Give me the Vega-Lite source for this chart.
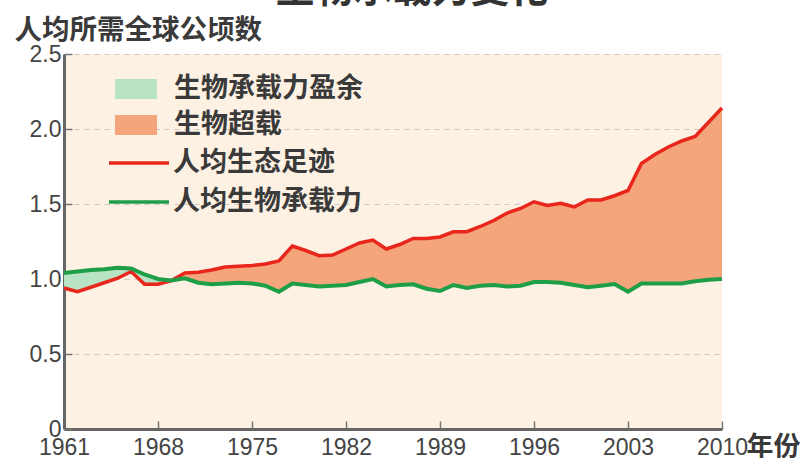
{
  "$schema": "https://vega.github.io/schema/vega-lite/v6.json",
  "autosize": "none",
  "width": 658,
  "height": 375,
  "padding": {"left": 64, "top": 54, "right": 86, "bottom": 29},
  "background": "#ffffff",
  "view": {"fill": "#fdf1e3", "stroke": null},
  "title": {
    "text": "生物承载力变化",
    "fontSize": 39,
    "font": "Noto Sans CJK SC",
    "fontWeight": "bold",
    "color": "#333333",
    "anchor": "middle",
    "baseline": "bottom",
    "dx": 19,
    "dy": 40,
    "offset": 7
  },
  "data": {
    "values": [
      {"year": 1961, "footprint": 0.94, "biocapacity": 1.04},
      {"year": 1962, "footprint": 0.915, "biocapacity": 1.05},
      {"year": 1963, "footprint": 0.945, "biocapacity": 1.06},
      {"year": 1964, "footprint": 0.975, "biocapacity": 1.065},
      {"year": 1965, "footprint": 1.005, "biocapacity": 1.075},
      {"year": 1966, "footprint": 1.05, "biocapacity": 1.07},
      {"year": 1967, "footprint": 0.965, "biocapacity": 1.03},
      {"year": 1968, "footprint": 0.965, "biocapacity": 1.0},
      {"year": 1969, "footprint": 0.99, "biocapacity": 0.99},
      {"year": 1970, "footprint": 1.04, "biocapacity": 1.005},
      {"year": 1971, "footprint": 1.045, "biocapacity": 0.975},
      {"year": 1972, "footprint": 1.06, "biocapacity": 0.965},
      {"year": 1973, "footprint": 1.08, "biocapacity": 0.97},
      {"year": 1974, "footprint": 1.085, "biocapacity": 0.975},
      {"year": 1975, "footprint": 1.09, "biocapacity": 0.97},
      {"year": 1976, "footprint": 1.1, "biocapacity": 0.955},
      {"year": 1977, "footprint": 1.12, "biocapacity": 0.915},
      {"year": 1978, "footprint": 1.22, "biocapacity": 0.97},
      {"year": 1979, "footprint": 1.19, "biocapacity": 0.96},
      {"year": 1980, "footprint": 1.155, "biocapacity": 0.95},
      {"year": 1981, "footprint": 1.16, "biocapacity": 0.955},
      {"year": 1982, "footprint": 1.2, "biocapacity": 0.96},
      {"year": 1983, "footprint": 1.24, "biocapacity": 0.98},
      {"year": 1984, "footprint": 1.26, "biocapacity": 1.0},
      {"year": 1985, "footprint": 1.2, "biocapacity": 0.95},
      {"year": 1986, "footprint": 1.23, "biocapacity": 0.96},
      {"year": 1987, "footprint": 1.27, "biocapacity": 0.965},
      {"year": 1988, "footprint": 1.27, "biocapacity": 0.935},
      {"year": 1989, "footprint": 1.28, "biocapacity": 0.92},
      {"year": 1990, "footprint": 1.315, "biocapacity": 0.96},
      {"year": 1991, "footprint": 1.315, "biocapacity": 0.94},
      {"year": 1992, "footprint": 1.35, "biocapacity": 0.955},
      {"year": 1993, "footprint": 1.39, "biocapacity": 0.96},
      {"year": 1994, "footprint": 1.44, "biocapacity": 0.95},
      {"year": 1995, "footprint": 1.47, "biocapacity": 0.955},
      {"year": 1996, "footprint": 1.515, "biocapacity": 0.98},
      {"year": 1997, "footprint": 1.49, "biocapacity": 0.98},
      {"year": 1998, "footprint": 1.505, "biocapacity": 0.975},
      {"year": 1999, "footprint": 1.48, "biocapacity": 0.96},
      {"year": 2000, "footprint": 1.527, "biocapacity": 0.945},
      {"year": 2001, "footprint": 1.527, "biocapacity": 0.955},
      {"year": 2002, "footprint": 1.555, "biocapacity": 0.967},
      {"year": 2003, "footprint": 1.59, "biocapacity": 0.915},
      {"year": 2004, "footprint": 1.77, "biocapacity": 0.97},
      {"year": 2005, "footprint": 1.83, "biocapacity": 0.97},
      {"year": 2006, "footprint": 1.88, "biocapacity": 0.97},
      {"year": 2007, "footprint": 1.92, "biocapacity": 0.97},
      {"year": 2008, "footprint": 1.95, "biocapacity": 0.985},
      {"year": 2009, "footprint": 2.045, "biocapacity": 0.995},
      {"year": 2010, "footprint": 2.14, "biocapacity": 1.0}
    ]
  },
  "encoding": {
    "x": {
      "field": "year",
      "type": "quantitative",
      "scale": {"domain": [1961, 2010], "nice": false, "zero": false},
      "axis": {
        "values": [1961, 1968, 1975, 1982, 1989, 1996, 2003, 2010],
        "format": "d",
        "grid": false,
        "labelOverlap": false,
        "labelFlush": false,
        "labelFont": "Liberation Sans",
        "labelFontSize": 23,
        "labelColor": "#444444",
        "labelPadding": 15,
        "tickSize": -8,
        "tickWidth": 1.5,
        "tickColor": "#777777",
        "domainColor": "#666666",
        "domainWidth": 3,
        "title": "年份",
        "titleFont": "Noto Sans CJK SC",
        "titleFontSize": 27,
        "titleFontWeight": "bold",
        "titleColor": "#3a3a3a",
        "titleAlign": "left",
        "titleBaseline": "middle",
        "titleX": 682,
        "titleY": 18
      }
    }
  },
  "layer": [
    {
      "transform": [{"filter": "datum.year >= 1969"}],
      "mark": {"type": "area", "opacity": 1},
      "encoding": {
        "y": {
          "field": "footprint",
          "type": "quantitative",
          "scale": {"domain": [0, 2.5], "nice": false},
          "axis": {
            "values": [0, 0.5, 1, 1.5, 2, 2.5],
            "labelExpr": "datum.value == 0 ? '0' : format(datum.value, '.1f')",
            "grid": true,
            "gridDash": [5, 5],
            "gridColor": "#cfc6bd",
            "gridWidth": 1.2,
            "labelFont": "Liberation Sans",
            "labelFontSize": 23,
            "labelColor": "#444444",
            "labelPadding": 11,
            "tickSize": -8,
            "tickWidth": 1.5,
            "tickColor": "#777777",
            "domainColor": "#666666",
            "domainWidth": 3,
            "title": "人均所需全球公顷数",
            "titleFont": "Noto Sans CJK SC",
            "titleFontSize": 27.5,
            "titleFontWeight": "bold",
            "titleColor": "#3a3a3a",
            "titleAngle": 0,
            "titleAlign": "left",
            "titleBaseline": "middle",
            "titleX": -50,
            "titleY": -24
          }
        },
        "y2": {"field": "biocapacity"},
        "fill": {
          "datum": "生物超载",
          "type": "nominal",
          "scale": {"domain": ["生物承载力盈余", "生物超载"], "range": ["#b8e3c5", "#f4a57b"]},
          "legend": {
            "title": null,
            "orient": "none",
            "legendX": 51,
            "legendY": 14,
            "symbolType": "M-1,-0.48H1V0.48H-1Z",
            "symbolSize": 1764,
            "symbolStrokeWidth": 0,
            "symbolOpacity": 1,
            "labelFont": "Noto Sans CJK SC",
            "labelFontSize": 27,
            "labelFontWeight": "bold",
            "labelColor": "#3a3a3a",
            "labelOffset": 17,
            "rowPadding": 2,
            "labelLimit": 400
          }
        }
      }
    },
    {
      "transform": [{"filter": "datum.year <= 1969"}],
      "mark": {"type": "area", "opacity": 1},
      "encoding": {
        "y": {"field": "biocapacity", "type": "quantitative"},
        "y2": {"field": "footprint"},
        "fill": {"datum": "生物承载力盈余", "type": "nominal"}
      }
    },
    {
      "mark": {"type": "line", "strokeWidth": 3.5},
      "encoding": {
        "y": {"field": "footprint", "type": "quantitative"},
        "stroke": {
          "datum": "人均生态足迹",
          "type": "nominal",
          "scale": {"domain": ["人均生态足迹", "人均生物承载力"], "range": ["#e8261c", "#1f9e48"]},
          "legend": {
            "title": null,
            "orient": "none",
            "legendX": 58,
            "legendY": 92,
            "symbolType": "M-2,0H2",
            "symbolSize": 900,
            "symbolStrokeWidth": 3.5,
            "symbolFillColor": "transparent",
            "labelFont": "Noto Sans CJK SC",
            "labelFontSize": 27,
            "labelFontWeight": "bold",
            "labelColor": "#3a3a3a",
            "labelOffset": 17,
            "rowPadding": 9,
            "labelLimit": 400
          }
        }
      }
    },
    {
      "mark": {"type": "line", "strokeWidth": 4},
      "encoding": {
        "y": {"field": "biocapacity", "type": "quantitative"},
        "stroke": {"datum": "人均生物承载力", "type": "nominal"}
      }
    }
  ]
}
